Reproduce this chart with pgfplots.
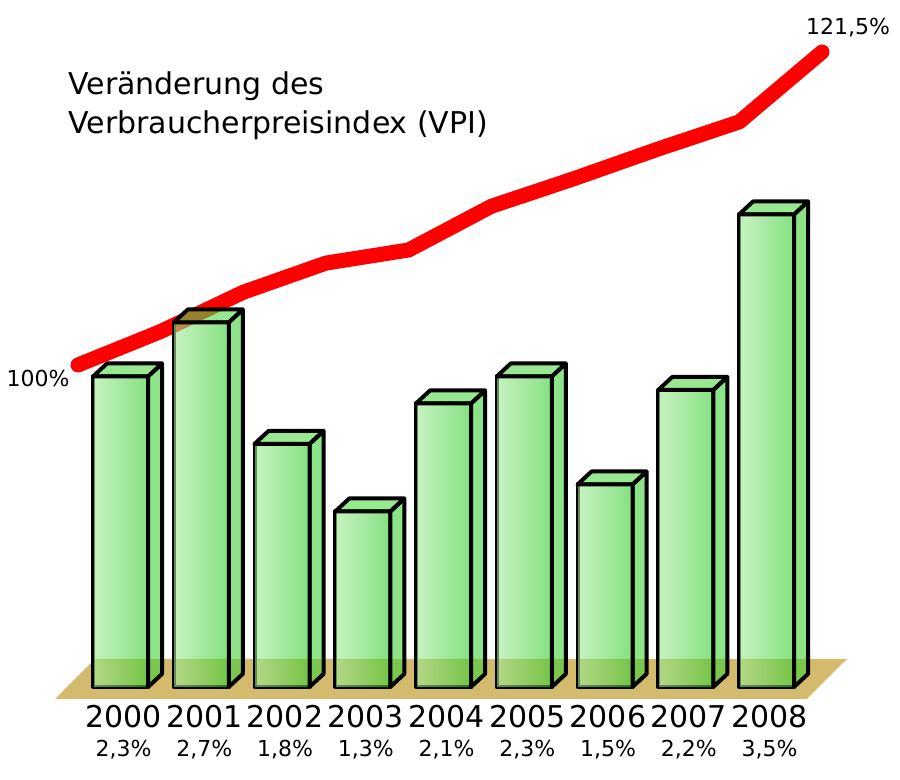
\documentclass[border=0pt]{standalone}
\usepackage{fontspec}
\setmainfont{DejaVu Sans}
\usepackage{pgfplots}
\usepackage{pgfplotstable}
\pgfplotsset{compat=1.18}

\definecolor{floortan}{RGB}{212,186,108}
\definecolor{frontL}{RGB}{160,235,150}
\definecolor{frontR}{RGB}{53,204,46}
\definecolor{sideG}{RGB}{64,208,57}
\definecolor{topG}{RGB}{84,216,74}

\pgfplotstableread{
i v
0 2.3
1 2.7
2 1.8
3 1.3
4 2.1
5 2.3
6 1.5
7 2.2
8 3.5
}\bardata

\pgfplotstableread{
k vpi
0 100
1 102.3
2 105.0
3 107.0
4 107.9
5 110.9
6 112.8
7 114.8
8 116.7
9 121.5
}\vpidata

\pgfdeclareplotmark{prism}{%
  \pgfmathsetlengthmacro\prismh{\barv*67.5pt}%
  \shade[left color=frontL, right color=frontR, fill opacity=0.6]
    (-13.75pt,0pt) rectangle (13.75pt,-\prismh);
  \filldraw[fill=sideG, fill opacity=0.6, draw=black, line width=2pt, line join=round]
    (13.75pt,0pt) -- (20.75pt,6.5pt) -- (20.75pt,6.5pt-\prismh) -- (13.75pt,-\prismh) -- cycle;
  \filldraw[fill=topG, fill opacity=0.6, draw=black, line width=2pt, line join=round]
    (-13.75pt,0pt) -- (13.75pt,0pt) -- (20.75pt,6.5pt) -- (-6.75pt,6.5pt) -- cycle;
}

\begin{document}
\begin{tikzpicture}
\path[use as bounding box] (0,0) rectangle (450pt,390pt);

\node[anchor=base west, inner sep=0pt, font=\fontsize{15}{18}\selectfont] at (34pt,342.5pt) {Veränderung des};
\node[anchor=base west, inner sep=0pt, font=\fontsize{15}{18}\selectfont] at (34pt,323pt) {Verbraucherpreisindex (VPI)};

% VPI line (behind the bars)
\begin{axis}[at={(39pt,207.5pt)}, anchor=south west,
  x=41.333pt, y=7.279pt, xmin=0, xmax=9, ymin=100, ymax=121.5,
  hide axis, clip=false, enlargelimits=false]
\addplot[color=red, line width=7.5pt, line cap=round, line join=round] table[x=k,y=vpi]{\vpidata};
\node[anchor=east, inner sep=0pt, font=\fontsize{11}{13}\selectfont] at ([xshift=-4pt,yshift=-7pt]axis cs:0,100) {100\%};
\node[inner sep=0pt, font=\fontsize{11}{13}\selectfont] at ([xshift=13pt,yshift=12pt]axis cs:9,121.5) {121,5\%};
\end{axis}

% bars
\begin{axis}[at={(19.875pt,46.5pt)}, anchor=south west,
  x=40.375pt, y=67.5pt, xmin=-1, xmax=9, ymin=0, ymax=4,
  clip=false, enlargelimits=false,
  axis line style={draw=none}, tick style={draw=none}, major tick length=0pt,
  ytick=\empty,
  xtick={0,1,2,3,4,5,6,7,8},
  xticklabels={2000,2001,2002,2003,2004,2005,2006,2007,2008},
  xticklabel style={anchor=base, inner sep=0pt, xshift=1.5pt, yshift=-20.5pt, font=\fontsize{15}{18}\selectfont},
  extra x ticks={0,1,2,3,4,5,6,7,8},
  extra x tick labels={{2,3\%},{2,7\%},{1,8\%},{1,3\%},{2,1\%},{2,3\%},{1,5\%},{2,2\%},{3,5\%}},
  extra x tick style={grid=none, xticklabel style={yshift=-14.5pt, font=\fontsize{11}{13}\selectfont}}]
\addplot[fill=floortan, draw=none] coordinates {(-0.811,-0.0889) (8.501,-0.0889) (8.997,0.2074) (-0.316,0.2074)} -- cycle;
\addplot[only marks, mark=prism, visualization depends on={rawy \as \barv}] table[x=i,y=v]{\bardata};
\addplot[ybar, bar shift=0pt, bar width=27.5pt, draw=black, fill=none, line width=2pt, line join=round] table[x=i,y=v]{\bardata};
\end{axis}
\end{tikzpicture}
\end{document}
